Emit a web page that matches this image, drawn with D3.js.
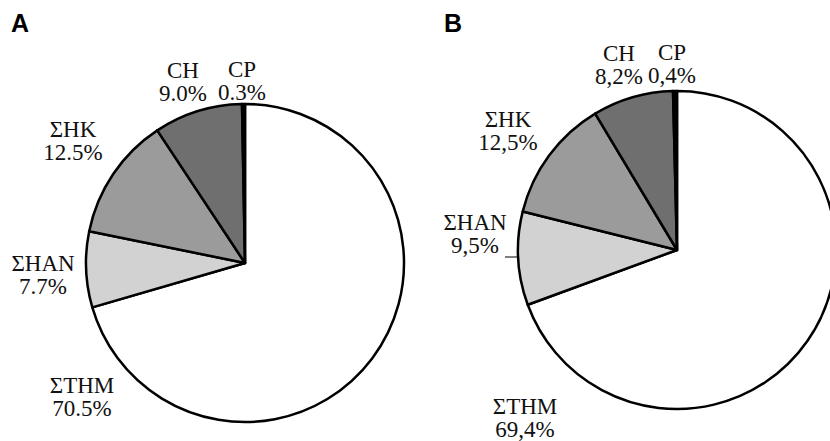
<!DOCTYPE html>
<html lang="en">
  <head>
    <meta charset="UTF-8">
    <title>Pie charts A and B</title>
    <style>
      body { margin: 0; background: #fff; }
      .panel-letter { font-family: "Liberation Sans", Arial, sans-serif; font-weight: bold; font-size: 25px; }
      .slice-label { font-family: "Liberation Serif", "Times New Roman", "DejaVu Serif", serif; font-size: 23px; fill: #111; }
    </style>
    <script src="https://d3js.org/d3.v7.min.js"></script>
  </head>
  <body>
    <script>
      // data
      const categories = ["\u03A3THM", "\u03A3HAN", "\u03A3HK", "CH", "CP"];
      const valuesA = [70.5, 7.7, 12.5, 9.0, 0.3];
      const valuesB = [69.4, 9.5, 12.5, 8.2, 0.4];
      const labelsA = ["70.5%", "7.7%", "12.5%", "9.0%", "0.3%"];
      const labelsB = ["69,4%", "9,5%", "12,5%", "8,2%", "0,4%"];
      const colors = ["#ffffff", "#d2d2d2", "#9b9b9b", "#6f6f6f", "#000000"];

      // label placement (layout only) : [x, y of first line baseline]
      const labelPosA = [[82, 393], [43, 271], [73, 137], [183, 78], [242, 77]];
      const labelPosB = [[525, 414], [475, 230], [508, 127], [619, 61], [672, 60]];

      const width = 830;
      const height = 441;
      const radius = 159;

      const svg = d3.select("body")
        .append("svg")
        .attr("width", width)
        .attr("height", height);

      const pie = d3.pie().sort(null);
      const arc = d3.arc().innerRadius(0).outerRadius(radius);
      const color = d3.scaleOrdinal().domain(categories).range(colors);

      function drawPie(letter, letterX, cx, cy, values, labels, pos) {
        svg.append("text")
          .attr("class", "panel-letter")
          .attr("x", letterX)
          .attr("y", 32)
          .text(letter);

        const g = svg.append("g")
          .attr("transform", `translate(${cx},${cy})`);

        g.selectAll("path")
          .data(pie(values))
          .enter()
          .append("path")
          .attr("d", arc)
          .attr("fill", (d, i) => color(categories[i]))
          .attr("stroke", "#000")
          .attr("stroke-width", 2.5)
          .attr("stroke-linejoin", "round");

        const t = svg.selectAll(null)
          .data(categories)
          .enter()
          .append("text")
          .attr("class", "slice-label")
          .attr("text-anchor", "middle")
          .attr("x", (d, i) => pos[i][0])
          .attr("y", (d, i) => pos[i][1]);

        t.append("tspan").text(d => d);
        t.append("tspan")
          .attr("x", (d, i) => pos[i][0])
          .attr("dy", 23)
          .text((d, i) => labels[i]);
      }

      drawPie("A", 11, 245, 263, valuesA, labelsA, labelPosA);
      drawPie("B", 444, 677, 250, valuesB, labelsB, labelPosB);

      // small leader line for the B panel HAN label
      svg.append("line")
        .attr("x1", 505).attr("x2", 517)
        .attr("y1", 257).attr("y2", 257)
        .attr("stroke", "#000")
        .attr("stroke-width", 1);
    </script>
  </body>
</html>
